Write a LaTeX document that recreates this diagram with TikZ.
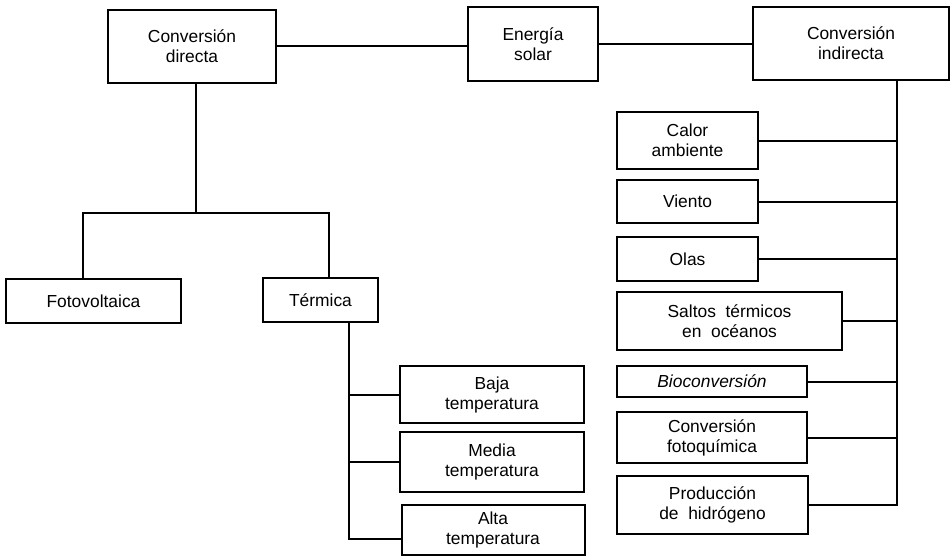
\documentclass[tikz,border=0pt]{standalone}
\usepackage{fontspec}
\setmainfont{Liberation Sans}
\usepackage{tikz}

\begin{document}
\begin{tikzpicture}[x=0.5pt,y=-0.5pt,line width=1pt]
    \tikzstyle{box}=[draw, rectangle, inner sep=0pt, align=center, font=\fontsize{8.7}{10}\selectfont]
    \useasboundingbox (0,0) rectangle (951,556);
    % top row
    \node[box, minimum width=84pt, minimum height=36.5pt] (dir) at (192, 46.5) {Conversión\\directa};
    \node[box, minimum width=65pt, minimum height=37pt] (sol) at (533, 44) {Energía\\solar};
    \node[box, minimum width=98pt, minimum height=36.5pt] (ind) at (851, 43.5) {Conversión\\indirecta};
    % direct branch
    \node[box, minimum width=87.5pt, minimum height=22pt] (fv) at (93.5, 301) {Fotovoltaica};
    \node[box, minimum width=57.5pt, minimum height=22pt] (ter) at (320.5, 300) {Térmica};
    \node[box, minimum width=92pt, minimum height=28.5pt] (baja) at (492, 394.5) {Baja\\temperatura};
    \node[box, minimum width=92pt, minimum height=30pt] (media) at (492, 462) {Media\\temperatura};
    \node[box, minimum width=91.5pt, minimum height=25pt] (alta) at (493, 530) {Alta\\temperatura};
    % indirect branch
    \node[box, minimum width=70.5pt, minimum height=28.5pt] (calor) at (687.5, 140.5) {Calor\\ambiente};
    \node[box, minimum width=70.5pt, minimum height=21.5pt] (viento) at (687.5, 201.5) {Viento};
    \node[box, minimum width=70.5pt, minimum height=22pt] (olas) at (687.5, 259) {Olas};
    \node[box, minimum width=112.5pt, minimum height=29pt] (saltos) at (729.5, 321) {Saltos\ \ térmicos\\en\ \ océanos};
    \node[box, minimum width=95pt, minimum height=15.5pt] (bio) at (712, 381.5) {\itshape Bioconversión};
    \node[box, minimum width=95pt, minimum height=25.5pt] (fq) at (712, 437.5) {Conversión\\fotoquímica};
    \node[box, minimum width=95.5pt, minimum height=29pt] (hid) at (712.5, 505) {Producción\\de\ \ hidrógeno};

    \coordinate (bar) at (0, 213);
    \coordinate (ttop) at (349, 322);
    \coordinate (itop) at (897, 80);

    \draw (dir.east) -- (dir.east -| sol.west);
    \draw (sol.east) -- (sol.east -| ind.west);
    \draw ([xshift=2pt]dir.south) -- ([xshift=2pt]dir.south |- bar);
    \draw ([xshift=-5.5pt]fv.north) -- ([xshift=-5.5pt]fv.north |- bar) -- ([xshift=4.25pt]ter.north |- bar) -- ([xshift=4.25pt]ter.north);
    \draw (ttop) |- ([yshift=-4.5pt]alta.west);
    \foreach \n in {baja, media}
        \draw (\n.west) -- (\n.west -| ttop);
    \draw (itop) |- (hid.east);
    \foreach \n in {calor, viento, olas, saltos, bio, fq}
        \draw (\n.east) -- (\n.east -| itop);
\end{tikzpicture}
\end{document}
